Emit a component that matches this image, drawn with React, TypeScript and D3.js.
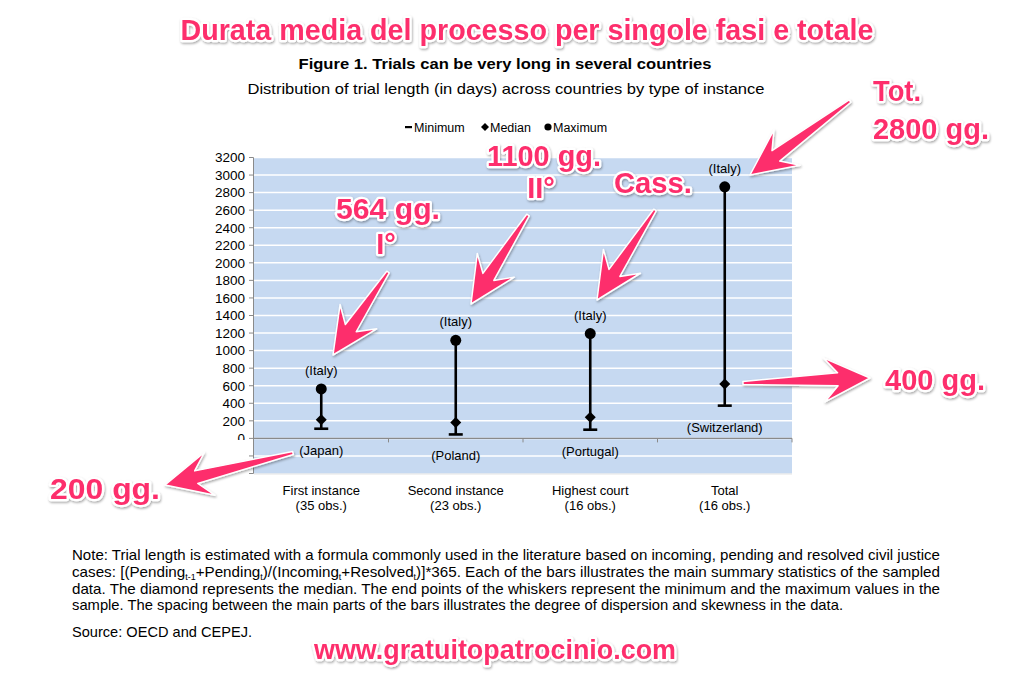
import React from "react";
import * as d3 from "d3";

const categories = ["First instance", "Second instance", "Highest court", "Total"];
const obsLabels = ["(35 obs.)", "(23 obs.)", "(16 obs.)", "(16 obs.)"];
const minimum = [110, 45, 99, 373];
const median = [213, 182, 240, 620];
const maximum = [564, 1117, 1194, 2866];
const maxCountry = ["(Italy)", "(Italy)", "(Italy)", "(Italy)"];
const minCountry = ["(Japan)", "(Poland)", "(Portugal)", "(Switzerland)"];
const yTickValues = d3.range(-400, 3201, 200);
const legendItems = ["Minimum", "Median", "Maximum"];

const title = "Durata media del processo per singole fasi e totale";
const figTitle = "Figure 1. Trials can be very long in several countries";
const figSubtitle = "Distribution of trial length (in days) across countries by type of instance";

const PINK = "#fd2f6c";
const FONT = "'Liberation Sans', Arial, Helvetica, sans-serif";
const NARROW = "'Liberation Sans Narrow', 'Liberation Sans', Arial, sans-serif";

function arrowPoints(tx: number, ty: number, px: number, py: number, h = 46, w = 22, shaft = 6.5, tailW = 1.5) {
  const dx = px - tx, dy = py - ty;
  const L = Math.hypot(dx, dy);
  const ux = dx / L, uy = dy / L;
  const nx = -uy, ny = ux;
  const bx = px - ux * h * 0.7, by = py - uy * h * 0.7;
  const hx = px - ux * h, hy = py - uy * h;
  const pts = [
    [tx + nx * tailW, ty + ny * tailW],
    [bx + nx * shaft, by + ny * shaft],
    [hx + nx * w, hy + ny * w],
    [px, py],
    [hx - nx * w, hy - ny * w],
    [bx - nx * shaft, by - ny * shaft],
    [tx - nx * tailW, ty - ny * tailW],
  ];
  return pts.map((p) => p.join(",")).join(" ");
}

const diamond = (s: number) => `M0,${-s}L${s},0L0,${s}L${-s},0Z`;

const PinkText = ({ x, y, children, size = 29, anchor = "middle", len }: any) => (
  <text
    x={x}
    y={y}
    textAnchor={anchor}
    fontFamily={FONT}
    fontWeight="bold"
    fontSize={size}
    fill={PINK}
    stroke="#fff"
    strokeWidth={4.5}
    strokeLinejoin="round"
    paintOrder="stroke"
    filter="url(#shadow)"
    textLength={len}
    lengthAdjust={len ? "spacingAndGlyphs" : undefined}
  >
    {children}
  </text>
);

export default function App() {
  const W = 1024, H = 686;
  const plotLeft = 254, plotRight = 792;
  const y = d3.scaleLinear().domain([-400, 3200]).range([473.5, 157.5]);
  const x = d3.scaleBand().domain(categories).range([plotLeft, plotRight]).padding(0);
  const cx = (i: number) => (x(categories[i]) as number) + x.bandwidth() / 2;

  const arrows = [
    [388, 272, 333, 355],
    [528, 215, 471, 304],
    [655, 210, 597, 300],
    [850, 101, 750, 175],
    [743, 383, 870, 378],
    [293, 453, 165, 485],
  ];

  return (
    <svg width={W} height={H} style={{ position: "absolute", left: 0, top: 0, background: "#fff" }}>
      <defs>
        <filter id="shadow" x="-20%" y="-20%" width="140%" height="160%">
          <feDropShadow dx="0.8" dy="1.5" stdDeviation="1.2" floodColor="#000" floodOpacity="0.35" />
        </filter>
        <clipPath id="ylabclip">
          <rect x={200} y={140} width={60} height={300} />
        </clipPath>
      </defs>
      <rect width={W} height={H} fill="#fff" />

      {/* Titles */}
      <PinkText x={527} y={40} size={29} len={693}>{title}</PinkText>
      <text x={505} y={69} textAnchor="middle" fontFamily={FONT} fontWeight="bold" fontSize={15} fill="#000" textLength={413} lengthAdjust="spacingAndGlyphs">
        {figTitle}
      </text>
      <text x={506} y={94} textAnchor="middle" fontFamily={FONT} fontSize={14.5} fill="#000" textLength={517} lengthAdjust="spacingAndGlyphs">
        {figSubtitle}
      </text>

      {/* Legend */}
      <g fontFamily={FONT} fontSize={12.5} fill="#000">
        <rect x={405} y={126} width={7} height={2.2} fill="#000" />
        <text x={414} y={131.5}>{legendItems[0]}</text>
        <path d={diamond(4)} transform="translate(485,127)" fill="#000" />
        <text x={490} y={131.5}>{legendItems[1]}</text>
        <circle cx={548} cy={127} r={3.6} fill="#000" />
        <text x={553} y={131.5}>{legendItems[2]}</text>
      </g>

      {/* Plot background */}
      <rect x={plotLeft} y={y(3200)} width={plotRight - plotLeft} height={y(-400) - y(3200)} fill="#c6d9f1" />
      {yTickValues.filter((v) => v !== -400).map((v) => (
        <line key={v} x1={plotLeft} x2={plotRight} y1={y(v)} y2={y(v)} stroke="#fff" strokeWidth={1.5} />
      ))}
      <line x1={plotLeft} x2={plotRight} y1={y(-400) + 0.5} y2={y(-400) + 0.5} stroke="#e4e4e4" strokeWidth={1} />

      {/* Y axis */}
      <line x1={253.5} x2={253.5} y1={y(3200)} y2={y(-400)} stroke="#8a8a8a" strokeWidth={1} />
      {yTickValues.map((v) => (
        <line key={v} x1={249} x2={253.5} y1={y(v)} y2={y(v)} stroke="#8a8a8a" strokeWidth={1} />
      ))}
      <g clipPath="url(#ylabclip)">
        {yTickValues.filter((v) => v >= 0).map((v) => (
          <text key={v} x={245} y={y(v) + 4.8} textAnchor="end" fontFamily={FONT} fontSize={13.5} fill="#000">
            {v}
          </text>
        ))}
      </g>

      {/* X axis at zero */}
      <line x1={plotLeft} x2={plotRight} y1={y(0)} y2={y(0)} stroke="#8a8a8a" strokeWidth={1.3} />
      {categories.map((c) => (
        <line key={c} x1={(x(c) as number) + x.bandwidth()} x2={(x(c) as number) + x.bandwidth()} y1={y(0)} y2={y(0) + 4} stroke="#8a8a8a" strokeWidth={1} />
      ))}

      {/* Whiskers */}
      {categories.map((c, i) => {
        const X = cx(i);
        return (
          <g key={c}>
            <line x1={X} x2={X} y1={y(maximum[i])} y2={y(minimum[i])} stroke="#000" strokeWidth={2.6} />
            <line x1={X - 7} x2={X + 7} y1={y(minimum[i])} y2={y(minimum[i])} stroke="#000" strokeWidth={2.6} />
            <path d={diamond(5.5)} transform={`translate(${X},${y(median[i])})`} fill="#000" />
            <circle cx={X} cy={y(maximum[i])} r={5.5} fill="#000" />
            <text x={X} y={y(maximum[i]) - 14} textAnchor="middle" fontFamily={FONT} fontSize={13} fill="#000">
              {maxCountry[i]}
            </text>
            <text x={X} y={y(minimum[i]) + 26} textAnchor="middle" fontFamily={FONT} fontSize={13} fill="#000">
              {minCountry[i]}
            </text>
            <text x={X} y={495} textAnchor="middle" fontFamily={FONT} fontSize={13} fill="#000">
              {c}
            </text>
            <text x={X} y={510} textAnchor="middle" fontFamily={FONT} fontSize={13} fill="#000">
              {obsLabels[i]}
            </text>
          </g>
        );
      })}

      {/* Note */}
      <g fontFamily={NARROW} fontSize={14.5} fill="#000">
        <text x={72} y={560} textLength={868} lengthAdjust="spacingAndGlyphs">
          Note: Trial length is estimated with a formula commonly used in the literature based on incoming, pending and resolved civil justice
        </text>
        <text x={72} y={577} textLength={868} lengthAdjust="spacingAndGlyphs">
          cases: [(Pending<tspan fontSize={8.5} dy={3}>t-1</tspan>
          <tspan dy={-3}>+Pending</tspan>
          <tspan fontSize={8.5} dy={3}>t</tspan>
          <tspan dy={-3}>)/(Incoming</tspan>
          <tspan fontSize={8.5} dy={3}>t</tspan>
          <tspan dy={-3}>+Resolved</tspan>
          <tspan fontSize={8.5} dy={3}>t</tspan>
          <tspan dy={-3}>)]*365. Each of the bars illustrates the main summary statistics of the sampled</tspan>
        </text>
        <text x={72} y={594} textLength={868} lengthAdjust="spacingAndGlyphs">
          data. The diamond represents the median. The end points of the whiskers represent the minimum and the maximum values in the
        </text>
        <text x={72} y={610} textLength={771} lengthAdjust="spacingAndGlyphs">
          sample. The spacing between the main parts of the bars illustrates the degree of dispersion and skewness in the data.
        </text>
        <text x={72} y={637} textLength={180} lengthAdjust="spacingAndGlyphs">Source: OECD and CEPEJ.</text>
      </g>

      {/* Arrows */}
      {arrows.map((a, i) => (
        <polygon key={i} points={arrowPoints(a[0], a[1], a[2], a[3])} fill={PINK} stroke="#fff" strokeWidth={1.5} strokeLinejoin="round" filter="url(#shadow)" />
      ))}

      {/* Pink annotations */}
      <PinkText x={388} y={219} len={104}>564 gg.</PinkText>
      <PinkText x={386} y={254}>I°</PinkText>
      <PinkText x={544} y={166} len={114}>1100 gg.</PinkText>
      <PinkText x={541} y={198}>II°</PinkText>
      <PinkText x={653} y={193} len={78}>Cass.</PinkText>
      <PinkText x={873} y={101} anchor="start" len={48}>Tot.</PinkText>
      <PinkText x={873} y={139} anchor="start" len={116}>2800 gg.</PinkText>
      <PinkText x={885} y={390} anchor="start" len={100}>400 gg.</PinkText>
      <PinkText x={50} y={499} anchor="start" len={110}>200 gg.</PinkText>
      <PinkText x={495} y={659} size={27} len={362}>www.gratuitopatrocinio.com</PinkText>
    </svg>
  );
}
